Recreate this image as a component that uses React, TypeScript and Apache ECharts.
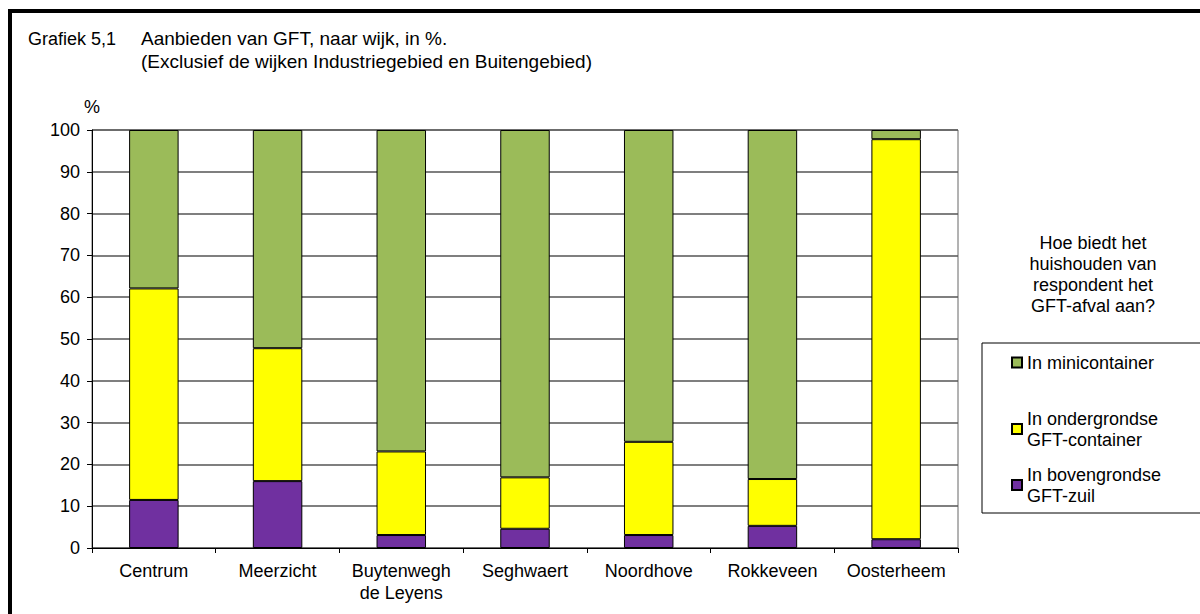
import React, { useEffect, useRef } from "react";
import * as echarts from "echarts";

const categories = [
  "Centrum",
  "Meerzicht",
  "Buytenwegh\nde Leyens",
  "Seghwaert",
  "Noordhove",
  "Rokkeveen",
  "Oosterheem",
];
const bovengrondse = [11.5, 16.0, 3.1, 4.6, 3.1, 5.3, 2.1];
const ondergrondse = [50.6, 31.8, 20.0, 12.3, 22.3, 11.2, 95.7];
const minicontainer = [37.9, 52.2, 76.9, 83.1, 74.6, 83.5, 2.2];

const seriesNames = {
  mini: "In minicontainer",
  onder: "In ondergrondse\nGFT-container",
  boven: "In bovengrondse\nGFT-zuil",
};

const titleLine1 = "Grafiek 5,1";
const titleLine2 = "Aanbieden van GFT, naar wijk, in %.\n(Exclusief de wijken Industriegebied en Buitengebied)";
const legendTitle = "Hoe biedt het\nhuishouden van\nrespondent het\nGFT-afval aan?";

const FONT = "'Liberation Sans', Arial, sans-serif";

export default function App() {
  const ref = useRef<HTMLDivElement>(null);
  useEffect(() => {
    document.body.style.margin = "0";
    const chart = echarts.init(ref.current!, null, { renderer: "svg" });
    const barBase = {
      type: "bar" as const,
      stack: "total",
      barWidth: "40%",
      itemStyle: { borderColor: "#000", borderWidth: 1 },
    };
    const txt = { fontWeight: "normal" as const, color: "#000", fontFamily: FONT };
    chart.setOption({
      animation: false,
      backgroundColor: "#fff",
      textStyle: { fontFamily: FONT, color: "#000" },
      title: [
        {
          text: titleLine1,
          left: 28,
          top: 28,
          padding: 0,
          textStyle: { ...txt, fontSize: 18, lineHeight: 22 },
        },
        {
          text: titleLine2,
          left: 141,
          top: 27,
          padding: 0,
          textStyle: { ...txt, fontSize: 19, lineHeight: 23 },
        },
        {
          text: legendTitle,
          left: 1093,
          textAlign: "center",
          top: 232,
          padding: 0,
          textStyle: { ...txt, fontSize: 18, lineHeight: 21 },
        },
      ],
      legend: [
        {
          data: [seriesNames.mini],
          orient: "vertical",
          left: 1011,
          top: 352,
          padding: 0,
          itemWidth: 10,
          itemHeight: 10,
          icon: "rect",
          textStyle: { ...txt, fontSize: 18, lineHeight: 21 },
          selectedMode: false,
        },
        {
          data: [seriesNames.onder, seriesNames.boven],
          orient: "vertical",
          left: 1011,
          top: 408,
          padding: 0,
          itemGap: 14,
          itemWidth: 10,
          itemHeight: 10,
          icon: "rect",
          textStyle: { ...txt, fontSize: 18, lineHeight: 21 },
          selectedMode: false,
        },
      ],
      grid: {
        left: 92,
        right: 242,
        top: 130,
        bottom: 66,
        show: true,
        borderColor: "#666",
        borderWidth: 1,
      },
      xAxis: {
        type: "category",
        data: categories,
        axisLine: { lineStyle: { color: "#000", width: 1 } },
        axisTick: { show: true, length: 5, lineStyle: { color: "#000" } },
        axisLabel: {
          ...txt,
          interval: 0,
          fontSize: 18,
          lineHeight: 22,
          margin: 12,
        },
      },
      yAxis: {
        type: "value",
        min: 0,
        max: 100,
        interval: 10,
        name: "%",
        nameLocation: "end",
        nameGap: 14,
        nameTextStyle: { ...txt, fontSize: 18 },
        axisLine: { show: true, lineStyle: { color: "#000", width: 1 } },
        axisTick: { show: true, length: 5, lineStyle: { color: "#000" } },
        axisLabel: { ...txt, fontSize: 18, margin: 12 },
        splitLine: { show: true, lineStyle: { color: "#555", width: 1.5 } },
      },
      series: [
        { ...barBase, name: seriesNames.boven, data: bovengrondse, itemStyle: { ...barBase.itemStyle, color: "#7030A0" } },
        { ...barBase, name: seriesNames.onder, data: ondergrondse, itemStyle: { ...barBase.itemStyle, color: "#FFFF00" } },
        { ...barBase, name: seriesNames.mini, data: minicontainer, itemStyle: { ...barBase.itemStyle, color: "#9BBB59" } },
      ],
      graphic: [
        {
          type: "rect",
          shape: { x: 10, y: 11, width: 1300, height: 700 },
          style: { fill: "none", stroke: "#000", lineWidth: 4 },
          silent: true,
        },
        {
          type: "rect",
          shape: { x: 982, y: 343, width: 230, height: 170 },
          style: { fill: "none", stroke: "#000", lineWidth: 1 },
          silent: true,
        },
      ],
    });
    return () => chart.dispose();
  }, []);
  return <div ref={ref} style={{ width: 1200, height: 614 }} />;
}
